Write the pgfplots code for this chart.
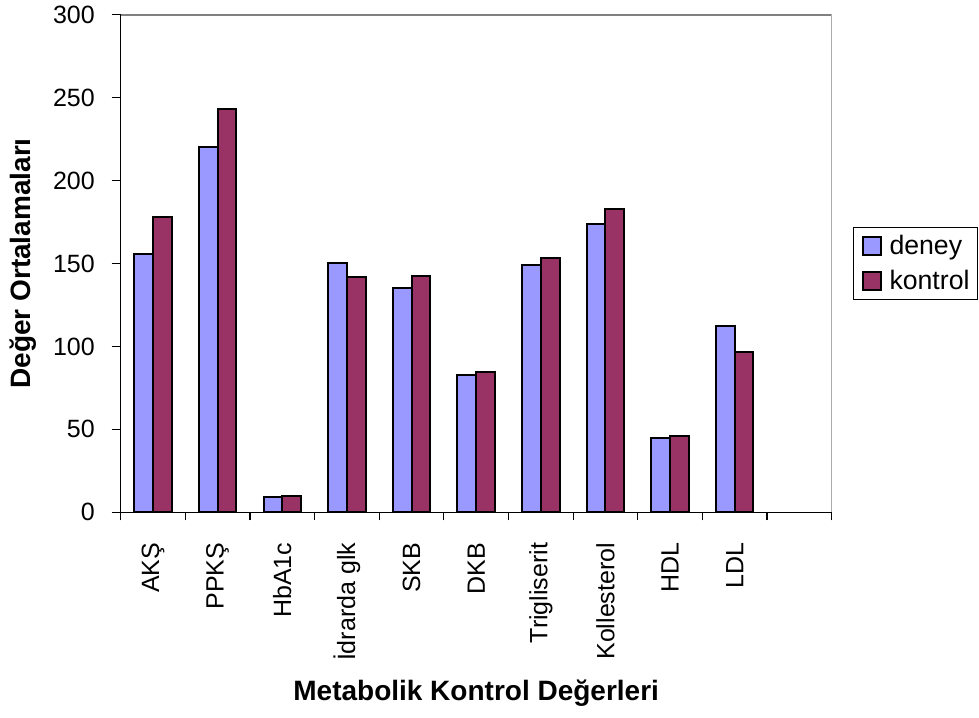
\documentclass[border=0pt]{standalone}
\usepackage{pgfplots}
\pgfplotsset{compat=1.18}
\usepackage{fontspec}
\setmainfont{Liberation Sans}
\definecolor{deney}{HTML}{9999FF}
\definecolor{kontrol}{HTML}{993366}
\begin{document}
\begin{tikzpicture}
\useasboundingbox (-90.5pt,-154.3pt) rectangle (643.75pt,384.2pt);
\begin{axis}[
  width=533.25pt, height=373.2pt, scale only axis,
  xmin=-0.5, xmax=10.5, ymin=0, ymax=300,
  axis lines*=left,
  axis line style={black, line width=0.9pt, -},
  ybar, bar width=0.29,
  xtick={0,...,9},
  xticklabels={AKŞ,PPKŞ,HbA1c,İdrarda glk,SKB,DKB,Trigliserit,Kollesterol,HDL,LDL},
  minor xtick={-0.5,0.5,...,10.5},
  major x tick style={draw=none},
  minor x tick style={black, line width=0.9pt},
  ytick={0,50,...,300},
  y tick style={black, line width=0.9pt},
  tick align=outside,
  major tick length=6.75pt,
  minor tick length=6pt,
  /pgf/number format/assume math mode=true,
  tick label style={font=\fontsize{18.75}{20}\selectfont},
  xticklabel style={rotate=90, anchor=east, inner sep=0pt},
  xticklabel shift=16pt,
  yticklabel style={anchor=east, inner sep=0pt},
  yticklabel shift=12.5pt,
  xlabel={Metabolik Kontrol Değerleri},
  xlabel style={at={(axis description cs:0.5,-0.379)}, anchor=base, font=\bfseries\fontsize{21}{24}\selectfont},
  ylabel={Değer Ortalamaları},
  ylabel style={at={(axis description cs:-0.1367,0.5)}, anchor=center, font=\bfseries\fontsize{21}{24}\selectfont},
  legend style={at={(1,0.5)}, anchor=west, xshift=16pt, draw=black, line width=0.75pt,
    font=\fontsize{20}{24}\selectfont, inner xsep=6pt, inner ysep=6pt, row sep=10pt,
    nodes={inner sep=0pt},
    /tikz/every odd column/.append style={column sep=6pt}},
  legend cell align=left,
  legend image code/.code={\draw[#1, line width=1.5pt] (0pt,-6.75pt) rectangle (13.5pt,6.75pt);},
]
\addplot[ybar, bar shift=-0.145, fill=deney, draw=black, line width=1.5pt] coordinates {
  (0,156) (1,220) (2,9.2) (3,150) (4,135) (5,83) (6,149) (7,174) (8,45) (9,112)};
\addlegendentry{deney}
\addplot[ybar, bar shift=0.145, fill=kontrol, draw=black, line width=1.5pt] coordinates {
  (0,178) (1,243) (2,9.8) (3,142) (4,142.5) (5,84.5) (6,153.5) (7,183) (8,46) (9,96.5)};
\addlegendentry{kontrol}
\draw[gray, line width=1.5pt] (rel axis cs:0,1) -- (rel axis cs:1,1) -- (rel axis cs:1,0);
\end{axis}
\end{tikzpicture}
\end{document}
